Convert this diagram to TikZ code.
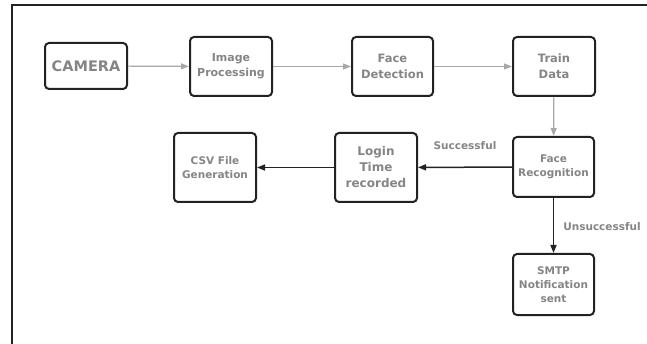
\documentclass[tikz,border=0pt]{standalone}
\usepackage{fontspec}
\setmainfont{DejaVu Sans}
\usetikzlibrary{arrows.meta}
\definecolor{txtgray}{HTML}{858585}
\definecolor{linegray}{HTML}{A8A8A8}
\definecolor{boxline}{HTML}{222222}
\tikzset{
  stepbox/.style={draw=boxline, line width=2pt, rounded corners=4pt, fill=white,
    align=center, text=txtgray, font=\bfseries\fontsize{10.5}{14}\selectfont,
    inner sep=0pt},
  grayflow/.style={draw=linegray, line width=1.2pt, -{Triangle[length=8pt,width=6pt]}},
  darkflow/.style={draw=boxline, line width=1.5pt, -{Triangle[length=8pt,width=6pt]}},
  edgelabel/.style={text=txtgray, font=\bfseries\fontsize{10.5}{12}\selectfont}
}
\begin{document}
\begin{tikzpicture}[x=1pt,y=-1pt]
  \useasboundingbox (0,0) rectangle (647,344);
  % outer frame: top and left edges
  \draw[boxline, line width=2pt] (12,344) -- (12,5) -- (647,5);

  % process boxes
  \node[stepbox, minimum width=82pt, minimum height=46pt,
        font=\bfseries\fontsize{14.5}{16}\selectfont] (cam) at (86,66) {CAMERA};
  \node[stepbox, minimum width=82pt, minimum height=59pt,
        font=\bfseries\fontsize{11}{15}\selectfont] (imp) at (231,66.5) {Image\\Processing};
  \node[stepbox, minimum width=81pt, minimum height=59pt,
        font=\bfseries\fontsize{11.5}{16}\selectfont] (fd) at (392.5,66.5) {Face\\Detection};
  \node[stepbox, minimum width=82pt, minimum height=59pt,
        font=\bfseries\fontsize{11.5}{16}\selectfont] (td) at (554,66.5) {Train\\Data};
  \node[stepbox, minimum width=81pt, minimum height=60pt] (fr) at (553.5,167) {Face\\Recognition};
  \node[stepbox, minimum width=82pt, minimum height=69pt,
        font=\bfseries\fontsize{12}{16}\selectfont] (lt) at (376,167.5) {Login\\Time\\recorded};
  \node[stepbox, minimum width=82pt, minimum height=69pt] (csv) at (215,167.5) {CSV File\\Generation};
  \node[stepbox, minimum width=81pt, minimum height=61pt] (smtp) at (553.5,284.5) {SMTP\\Notification\\sent};

  % connectors
  \draw[grayflow] (cam) -- (imp);
  \draw[grayflow] (imp) -- (fd);
  \draw[grayflow] (fd) -- (td);
  \draw[grayflow] (td) -- (fr);
  \draw[darkflow] (fr) -- (lt);
  \draw[darkflow] (lt) -- (csv);
  \draw[darkflow] (fr) -- (smtp);

  % branch labels
  \node[edgelabel] (lsucc) at (465,146) {Successful};
  \node[edgelabel] (lfail) at (602,227) {Unsuccessful};
\end{tikzpicture}
\end{document}
